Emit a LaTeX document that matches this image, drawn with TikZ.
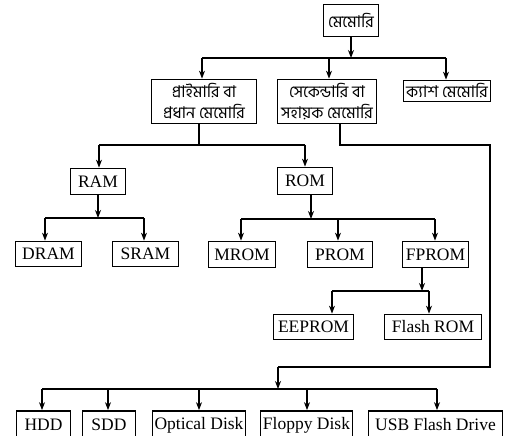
\documentclass[tikz,border=0pt]{standalone}
\usepackage{fontspec}
\setmainfont{Liberation Serif}
\newfontfamily\bn[Script=Bengali]{Hind Siliguri}
\usetikzlibrary{arrows.meta}
\begin{document}
\begin{tikzpicture}[x=1pt,y=-1pt,
  box/.style={draw, line width=1.7pt, inner sep=0pt, font=\fontsize{17.5}{20}\selectfont},
  bbox/.style={draw, line width=1.7pt, inner sep=0pt, align=center, font=\bn\fontsize{16.2}{21}\selectfont},
  conn/.style={line width=1.4pt},
  arr/.style={conn, -{Stealth[length=8pt,width=6pt]}}]
\useasboundingbox (0,0) rectangle (515,436);
\clip (0,0) rectangle (515,436);

% top level
\node[bbox, minimum width=55pt, minimum height=32pt] (mem) at (351,20.5) {মেমোরি};
\node[bbox, minimum width=105pt, minimum height=44pt] (prim) at (204,101.5) {প্রাইমারি বা\\প্রধান মেমোরি};
\node[bbox, minimum width=99pt, minimum height=44pt] (sec) at (327,101.5) {সেকেন্ডারি বা\\সহায়ক মেমোরি};
\node[bbox, minimum width=87pt, minimum height=21pt] (cache) at (447,91) {ক্যাশ মেমোরি};

% second level
\node[box, minimum width=55pt, minimum height=26pt] (ram) at (98,181.5) {RAM};
\node[box, minimum width=55pt, minimum height=27pt] (rom) at (305,181) {ROM};

\node[box, minimum width=66pt, minimum height=25pt] (dram) at (48.5,254) {DRAM};
\node[box, minimum width=66pt, minimum height=25pt] (sram) at (145.5,254) {SRAM};
\node[box, minimum width=67pt, minimum height=26pt] (mrom) at (242,254.5) {MROM};
\node[box, minimum width=65pt, minimum height=26pt] (prom) at (340,254.5) {PROM};
\node[box, minimum width=66pt, minimum height=26pt] (fprom) at (435.5,254.5) {FPROM};
\node[box, minimum width=80pt, minimum height=25pt] (eeprom) at (313.5,327) {EEPROM};
\node[box, minimum width=97pt, minimum height=25pt] (flash) at (433,327) {Flash ROM};

% secondary storage
\node[box, minimum width=54pt, minimum height=28pt] (hdd) at (43.5,425) {HDD};
\node[box, minimum width=53pt, minimum height=28pt] (sdd) at (109,425) {SDD};
\node[box, minimum width=93pt, minimum height=28pt] (opt) at (199,425) {Optical Disk};
\node[box, minimum width=92pt, minimum height=28pt] (flop) at (306.5,425) {Floppy Disk};
\node[box, minimum width=134pt, minimum height=28pt] (usb) at (435.5,425) {USB Flash Drive};

% memory -> three kinds
\coordinate (b0) at (351,58);
\coordinate (b0l) at (202,58);
\coordinate (b0m) at (329,58);
\coordinate (b0r) at (446,58);
\draw[arr] (mem) -- (b0);
\draw[conn] (b0l) -- (b0r);
\draw[arr] (b0l) -- (b0l |- prim.north);
\draw[arr] (b0m) -- (b0m |- sec.north);
\draw[arr] (b0r) -- (b0r |- cache.north);

% primary -> RAM, ROM
\coordinate (b1) at (199,145);
\coordinate (b1l) at (99,145);
\coordinate (b1r) at (305,145);
\draw[conn] (b1 |- prim.south) -- (b1);
\draw[conn] (b1l) -- (b1r);
\draw[arr] (b1l) -- (b1l |- ram.north);
\draw[arr] (b1r) -- (b1r |- rom.north);

% RAM -> DRAM, SRAM
\coordinate (b2) at (98,218);
\coordinate (b2l) at (45,218);
\coordinate (b2r) at (144,218);
\draw[arr] (ram) -- (b2);
\draw[conn] (b2l) -- (b2r);
\draw[arr] (b2l) -- (b2l |- dram.north);
\draw[arr] (b2r) -- (b2r |- sram.north);

% ROM -> MROM, PROM, FPROM
\coordinate (b3) at (311,219);
\coordinate (b3l) at (241,219);
\coordinate (b3m) at (338,219);
\coordinate (b3r) at (435,219);
\draw[arr] (b3 |- rom.south) -- (b3);
\draw[conn] (b3l) -- (b3r);
\draw[arr] (b3l) -- (b3l |- mrom.north);
\draw[arr] (b3m) -- (b3m |- prom.north);
\draw[arr] (b3r) -- (b3r |- fprom.north);

% FPROM -> EEPROM, Flash ROM
\coordinate (b4) at (422,291);
\coordinate (b4l) at (332,291);
\coordinate (b4r) at (429,291);
\draw[arr] (b4 |- fprom.south) -- (b4);
\draw[conn] (b4l) -- (b4r);
\draw[arr] (b4l) -- (b4l |- eeprom.north);
\draw[arr] (b4r) -- (b4r |- flash.north);

% secondary -> storage devices
\coordinate (s1) at (340,145);
\coordinate (s2) at (490,145);
\coordinate (s3) at (490,367);
\coordinate (s4) at (278,367);
\coordinate (b5) at (278,389);
\coordinate (b5a) at (42,389);
\coordinate (b5b) at (108,389);
\coordinate (b5c) at (199,389);
\coordinate (b5d) at (307,389);
\coordinate (b5e) at (437,389);
\draw[conn] (s1 |- sec.south) -- (s1) -- (s2) -- (s3) -- (s4);
\draw[arr] (s4) -- (b5);
\draw[conn] (b5a) -- (b5e);
\draw[arr] (b5a) -- (b5a |- hdd.north);
\draw[arr] (b5b) -- (b5b |- sdd.north);
\draw[arr] (b5c) -- (b5c |- opt.north);
\draw[arr] (b5d) -- (b5d |- flop.north);
\draw[arr] (b5e) -- (b5e |- usb.north);
\end{tikzpicture}
\end{document}
